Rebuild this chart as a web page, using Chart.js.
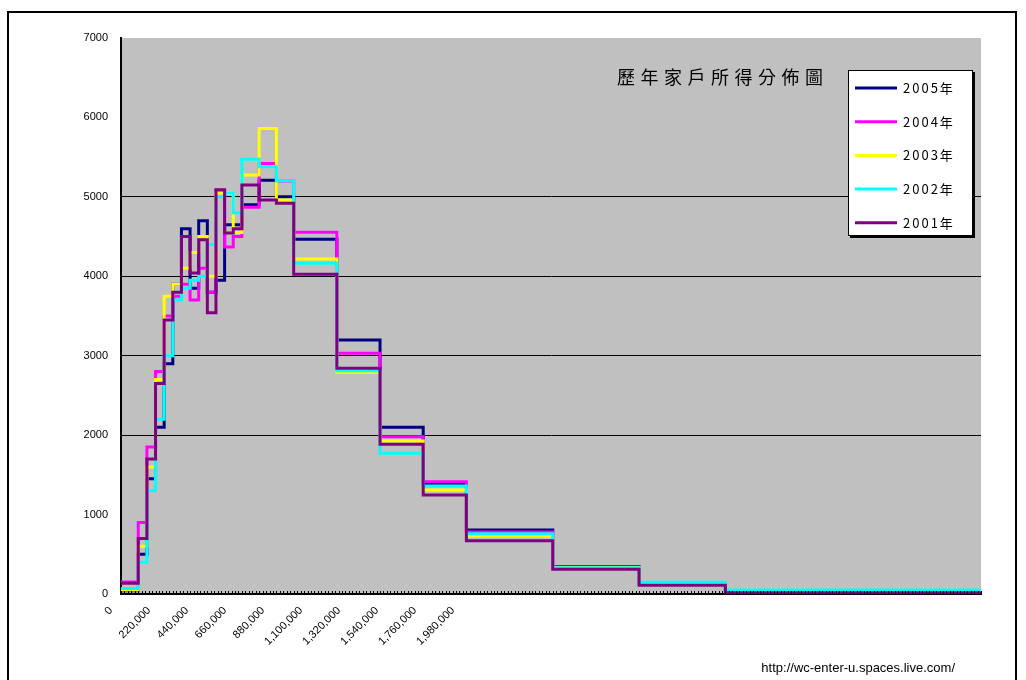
<!DOCTYPE html>
<html>
<head>
<meta charset="utf-8">
<title>歷年家戶所得分佈圖</title>
<script src="https://cdn.jsdelivr.net/npm/chart.js@4.4.1/dist/chart.umd.min.js"></script>
<style>
    html, body { margin: 0; padding: 0; background: #fff; }
</style>
</head>
<body>
<canvas id="income-chart" width="1026" height="680"></canvas>
<script>
(function () {
    "use strict";

    // Chart data
    var chartTitle = "歷年家戶所得分佈圖";
    var sourceText = "http://wc-enter-u.spaces.live.com/";
    var years = ["2005年", "2004年", "2003年", "2002年", "2001年"];
    var colors = ["#000080", "#FF00FF", "#FFFF00", "#00FFFF", "#800080"];

    // bracket edges (income), one value per bracket below
    var edges = [0, 100000, 150000, 200000, 250000, 300000, 350000, 400000, 450000, 500000,
        550000, 600000, 650000, 700000, 750000, 800000, 850000, 900000, 950000, 1000000,
        1250000, 1500000, 1750000, 2000000, 2500000, 3000000, 3500000, 4980000];

    var y2005 = [40, 500, 1450, 2100, 2900, 3900, 4600, 3850, 4700, 3800, 3950, 4650, 4650, 4900,
        4900, 5210, 5210, 5000, 5000, 4465, 3198, 2098, 1380, 806, 345, 140, 45];
    var y2004 = [150, 900, 1850, 2800, 3500, 3750, 3900, 3700, 4100, 3800, 5080, 4370, 4500, 4870,
        4870, 5420, 5420, 5200, 5200, 4554, 3030, 1981, 1414, 780, 335, 140, 40];
    var y2003 = [50, 600, 1600, 2700, 3750, 3900, 4100, 4300, 4500, 4000, 5050, 5050, 4550, 5275,
        5275, 5860, 5860, 4960, 4960, 4218, 2791, 1926, 1309, 730, 336, 135, 40];
    var y2002 = [70, 400, 1300, 2200, 3000, 3700, 3850, 3950, 4000, 4400, 5000, 5050, 4800, 5473,
        5473, 5380, 5380, 5204, 5204, 4163, 2810, 1771, 1360, 760, 330, 147, 50];
    var y2001 = [135, 700, 1700, 2650, 3450, 3800, 4500, 4040, 4460, 3540, 5090, 4545, 4600, 5150,
        5150, 4960, 4960, 4920, 4920, 4025, 2841, 1884, 1246, 670, 311, 110, 17];

    var xLabelValues = [0, 220000, 440000, 660000, 880000, 1100000, 1320000, 1540000, 1760000, 1980000];
    var xMax = 4980000;
    var xMinorStep = 20000;
    var yMax = 7000;
    var yStep = 1000;
    var gridValues = [2000, 3000, 4000, 5000];

    var series = [y2005, y2004, y2003, y2002, y2001];


    // one point per bracket start, plus the closing edge
    function toPoints(vals) {
        var pts = vals.map(function (v, i) {
            return {x: edges[i], y: v};
        });
        pts.push({x: edges[edges.length - 1], y: vals[vals.length - 1]});
        return pts;
    }

    var datasets = series.map(function (vals, i) {
        return {
            label: years[i],
            data: toPoints(vals),
            borderColor: colors[i],
            backgroundColor: colors[i],
            borderWidth: 3,
            pointRadius: 0,
            stepped: true,
            fill: false,
            order: series.length - i
        };
    });


    // Frame, plot background, minor ticks, title, legend and source
    var decorations = {
        id: "decorations",
        beforeDraw: function (chart) {
            var ctx = chart.ctx;
            var area = chart.chartArea;
            ctx.save();
            ctx.fillStyle = "#fff";
            ctx.fillRect(0, 0, chart.width, chart.height);
            ctx.strokeStyle = "#000";
            ctx.lineWidth = 2;
            ctx.strokeRect(8, 12, 1008, 700);
            ctx.fillStyle = "#C0C0C0";
            ctx.fillRect(area.left, area.top, area.right - area.left, area.bottom - area.top);
            ctx.restore();
        },
        afterDatasetsDraw: function (chart) {
            var ctx = chart.ctx;
            var xs = chart.scales.x;
            var area = chart.chartArea;
            ctx.save();
            ctx.strokeStyle = "#000";
            ctx.lineWidth = 1;
            ctx.beginPath();
            for (var v = 0; v <= xMax; v += xMinorStep) {
                var px = Math.round(xs.getPixelForValue(v)) + 0.5;
                ctx.moveTo(px, area.bottom);
                ctx.lineTo(px, area.bottom - 3);
            }
            ctx.stroke();
            ctx.restore();
        },
        afterDraw: function (chart) {
            var ctx = chart.ctx;
            var area = chart.chartArea;
            ctx.save();

            // title, spaced out like the original
            ctx.fillStyle = "#000";
            ctx.font = "18px 'Noto Sans CJK TC'";
            ctx.textBaseline = "alphabetic";
            ctx.textAlign = "left";
            var chars = Array.from(chartTitle);
            for (var c = 0; c < chars.length; c++) {
                ctx.fillText(chars[c], area.left + 496 + c * 23.5, area.top + 46);
            }

            // legend box
            var bx = area.right - 133, by = area.top + 32, bw = 125, bh = 166;
            ctx.fillStyle = "#000";
            ctx.fillRect(bx + 2, by + 2, bw, bh);
            ctx.fillStyle = "#fff";
            ctx.fillRect(bx, by, bw, bh);
            ctx.strokeStyle = "#000";
            ctx.lineWidth = 1;
            ctx.strokeRect(bx + 0.5, by + 0.5, bw - 1, bh - 1);

            ctx.font = "13px 'Noto Sans CJK TC'";
            ctx.textBaseline = "middle";
            if ("letterSpacing" in ctx) {
                ctx.letterSpacing = "2px";
            }
            years.forEach(function (label, i) {
                var ry = by + 18 + i * 33.7;
                ctx.strokeStyle = colors[i];
                ctx.lineWidth = 3;
                ctx.beginPath();
                ctx.moveTo(bx + 7, ry);
                ctx.lineTo(bx + 49, ry);
                ctx.stroke();
                ctx.fillStyle = "#000";
                ctx.fillText(label, bx + 55, ry);
            });
            if ("letterSpacing" in ctx) {
                ctx.letterSpacing = "0px";
            }

            // source line
            ctx.font = "13px 'Liberation Sans'";
            ctx.textAlign = "right";
            ctx.textBaseline = "alphabetic";
            ctx.fillStyle = "#000";
            ctx.fillText(sourceText, 955, 672);
            ctx.restore();
        }
    };


    Chart.defaults.font.family = "'Liberation Sans', Arial, sans-serif";
    Chart.defaults.color = "#000";

    var ctx1 = document.getElementById("income-chart").getContext("2d");
    var incomeChart = new Chart(ctx1, {
        type: "line",
        data: {
            datasets: datasets
        },
        options: {
            responsive: false,
            animation: false,
            layout: {
                padding: {left: 0, top: 38, right: 45, bottom: 0}
            },
            plugins: {
                legend: {display: false},
                tooltip: {enabled: false}
            },
            scales: {
                x: {
                    type: "linear",
                    min: 0,
                    max: xMax,
                    afterBuildTicks: function (scale) {
                        scale.ticks = xLabelValues.map(function (v) {
                            return {value: v};
                        });
                    },
                    afterFit: function (scale) {
                        scale.height = 86;
                    },
                    ticks: {
                        autoSkip: false,
                        minRotation: 45,
                        maxRotation: 45,
                        labelOffset: -10,
                        padding: 10,
                        font: {size: 11},
                        color: "#000",
                        callback: function (value) {
                            return Number(value).toLocaleString("en-US");
                        }
                    },
                    grid: {display: false, drawTicks: false},
                    border: {display: true, color: "#000", width: 2}
                },
                y: {
                    min: 0,
                    max: yMax,
                    afterFit: function (scale) {
                        scale.width = 121;
                    },
                    ticks: {
                        stepSize: yStep,
                        padding: 13,
                        font: {size: 11},
                        color: "#000",
                        callback: function (value) {
                            return String(value);
                        }
                    },
                    grid: {
                        drawTicks: false,
                        lineWidth: 1,
                        color: function (c) {
                            return gridValues.indexOf(c.tick.value) >= 0 ? "#000" : "rgba(0,0,0,0)";
                        }
                    },
                    border: {display: true, color: "#000", width: 2}
                }
            }
        },
        plugins: [decorations]
    });

})();
</script>
</body>
</html>
